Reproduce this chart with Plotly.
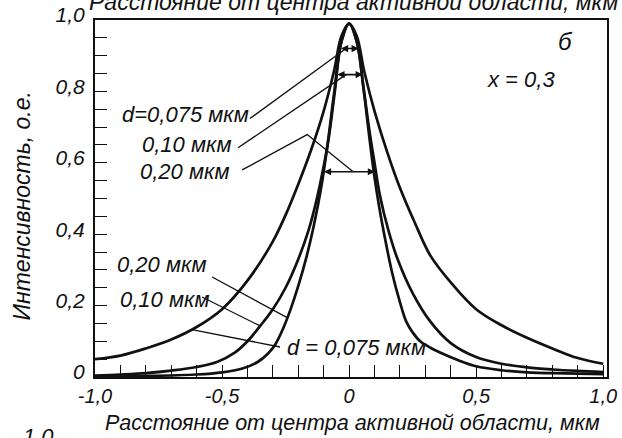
import plotly.graph_objects as go

# --- intensity profiles across the active region (x in мкм, intensity in о.е.) ---
# widest profile
xa = [-1.0, -0.9, -0.8, -0.7, -0.6, -0.5, -0.4, -0.3, -0.24, -0.2, -0.15, -0.1,
      -0.06, -0.03, 0.0, 0.03, 0.06, 0.1, 0.15, 0.2, 0.26, 0.32, 0.4, 0.5, 0.6,
      0.7, 0.8, 0.9, 1.0]
ya = [0.05, 0.06, 0.08, 0.105, 0.14, 0.19, 0.27, 0.38, 0.47, 0.54, 0.635, 0.745,
      0.855, 0.955, 0.99, 0.955, 0.855, 0.745, 0.63, 0.53, 0.43, 0.34, 0.265, 0.19,
      0.145, 0.11, 0.08, 0.053, 0.037]

# middle profile
xb = [-1.0, -0.9, -0.8, -0.7, -0.6, -0.52, -0.45, -0.4, -0.35, -0.3, -0.25, -0.2,
      -0.16, -0.13, -0.1, -0.08, -0.056, -0.03, 0.0, 0.03, 0.056, 0.08, 0.1, 0.121,
      0.155, 0.19, 0.25, 0.32, 0.4, 0.5, 0.6, 0.7, 0.8, 0.9, 1.0]
yb = [0.004, 0.007, 0.011, 0.018, 0.028, 0.042, 0.068, 0.10, 0.143, 0.19, 0.25, 0.33,
      0.41, 0.49, 0.59, 0.67, 0.80, 0.94, 0.99, 0.94, 0.815, 0.69, 0.60, 0.51,
      0.41, 0.332, 0.235, 0.155, 0.095, 0.056, 0.037, 0.027, 0.021, 0.017, 0.014]

# narrowest profile
xc = [-1.0, -0.8, -0.6, -0.5, -0.42, -0.36, -0.32, -0.29, -0.26, -0.23, -0.2, -0.17,
      -0.14, -0.11, -0.085, -0.06, -0.03, 0.0, 0.03, 0.058, 0.08, 0.1, 0.12, 0.145,
      0.17, 0.2, 0.225, 0.25, 0.28, 0.32, 0.36, 0.43, 0.5, 0.6, 0.7, 0.85, 1.0]
yc = [0.002, 0.003, 0.007, 0.013, 0.024, 0.042, 0.065, 0.092, 0.135, 0.19, 0.255, 0.33,
      0.42, 0.53, 0.65, 0.79, 0.94, 0.99, 0.94, 0.80, 0.67, 0.56, 0.47, 0.375,
      0.29, 0.21, 0.155, 0.125, 0.10, 0.082, 0.068, 0.047, 0.03, 0.019, 0.013, 0.01, 0.008]

# half-width markers: level, left edge, right edge
arrow_y = [0.92, 0.847, 0.575]
arrow_x0 = [-0.038, -0.052, -0.105]
arrow_x1 = [0.038, 0.054, 0.102]

# callout labels: text, x, y, leader line points
upper_labels = ["d=0,075 мкм", "0,10 мкм", "0,20 мкм"]
upper_label_x = [-0.90, -0.823, -0.83]
upper_label_y = [0.735, 0.651, 0.575]
upper_leaders = [
    ([-0.39, -0.012], [0.724, 0.92]),
    ([-0.437, -0.012], [0.642, 0.847]),
    ([-0.421, -0.165, 0.016], [0.58, 0.679, 0.575]),
]
lower_labels = ["0,20 мкм", "0,10 мкм", "d = 0,075 мкм"]
lower_label_x = [-0.921, -0.909, -0.252]
lower_label_y = [0.314, 0.216, 0.084]
lower_leaders = [
    ([-0.539, -0.24], [0.28, 0.165]),
    ([-0.579, -0.35], [0.224, 0.143]),
    ([-0.272, -0.618], [0.084, 0.133]),
]

x_ticks = [-1.0, -0.5, 0.0, 0.5, 1.0]
x_ticktext = ["-1,0", "-0,5", "0", "0,5", "1,0"]
y_ticks = [0.0, 0.2, 0.4, 0.6, 0.8, 1.0]
y_ticktext = ["0", "0,2", "0,4", "0,6", "0,8", "1,0"]

FONT = "Liberation Sans, Arial, sans-serif"
INK = "#111111"

fig = go.Figure()

for xs, ys in [(xa, ya), (xb, yb), (xc, yc)]:
    fig.add_trace(go.Scatter(x=xs, y=ys, mode="lines",
                             line=dict(color=INK, width=2.7, shape="spline", smoothing=1.0),
                             hoverinfo="skip", showlegend=False))

for lx, ly in upper_leaders + lower_leaders:
    fig.add_trace(go.Scatter(x=lx, y=ly, mode="lines",
                             line=dict(color=INK, width=1.3),
                             hoverinfo="skip", showlegend=False))

annotations = []
for yy, x0, x1 in zip(arrow_y, arrow_x0, arrow_x1):
    annotations.append(dict(x=x1, y=yy, ax=x0, ay=yy, xref="x", yref="y",
                            axref="x", ayref="y", text="", showarrow=True,
                            arrowhead=2, startarrowhead=2, arrowside="end+start",
                            arrowsize=0.9, startarrowsize=0.9, arrowwidth=1.6,
                            arrowcolor=INK))


def label(text, x, y, size=22, xanchor="left", xref="x", yref="y", angle=0):
    return dict(text=text, x=x, y=y, xref=xref, yref=yref, xanchor=xanchor,
                yanchor="middle", showarrow=False, textangle=angle,
                font=dict(family=FONT, size=size, color=INK, style="italic"))


for t, x, y in zip(upper_labels, upper_label_x, upper_label_y):
    annotations.append(label(t, x, y))
for t, x, y in zip(lower_labels, lower_label_x, lower_label_y):
    annotations.append(label(t, x, y))

annotations.append(label("б", 0.85, 0.94, size=24, xanchor="center"))
annotations.append(label("x = 0,3", 0.535, 0.833, size=22))

axis_title = "Расстояние от центра активной области, мкм"
annotations.append(label(axis_title, 0.503, -0.128, size=21.5, xanchor="center",
                         xref="paper", yref="paper"))
annotations.append(label("Интенсивность, о.е.", -0.143, 0.48, size=23,
                         xanchor="center", xref="paper", yref="paper", angle=-90))
# neighbouring panel text at the page edges
annotations.append(label(axis_title, 0.504, 1.05, size=23, xanchor="center",
                         xref="paper", yref="paper"))
annotations.append(label("1,0", -0.11, -0.166, size=22, xanchor="center",
                         xref="paper", yref="paper"))

fig.update_layout(
    width=622, height=438,
    margin=dict(l=95, r=15, t=20, b=61, autoexpand=False),
    paper_bgcolor="white", plot_bgcolor="white",
    font=dict(family=FONT, color=INK),
    annotations=annotations,
    showlegend=False,
)

fig.update_xaxes(
    range=[-1.0, 1.015], showgrid=False, zeroline=False, automargin=False,
    showline=True, linewidth=2.2, linecolor=INK, mirror=True,
    tickmode="array", tickvals=x_ticks, ticktext=x_ticktext,
    ticks="inside", ticklen=12, tickwidth=1.4, tickcolor=INK,
    tickfont=dict(family=FONT, size=20, color=INK, style="italic"),
    minor=dict(dtick=0.1, ticks="inside", ticklen=12, tickwidth=1.4, tickcolor=INK,
               showgrid=False),
)
fig.update_yaxes(
    range=[0, 1.0], showgrid=False, zeroline=False, automargin=False,
    showline=True, linewidth=2.2, linecolor=INK, mirror=True,
    tickmode="array", tickvals=y_ticks, ticktext=y_ticktext,
    ticks="inside", ticklen=12, tickwidth=1.4, tickcolor=INK,
    ticklabelshift=-5, ticklabelstandoff=4,
    tickfont=dict(family=FONT, size=21, color=INK, style="italic"),
    minor=dict(dtick=0.05, ticks="inside", ticklen=12, tickwidth=1.4, tickcolor=INK,
               showgrid=False),
)

fig.write_html("out.html")
